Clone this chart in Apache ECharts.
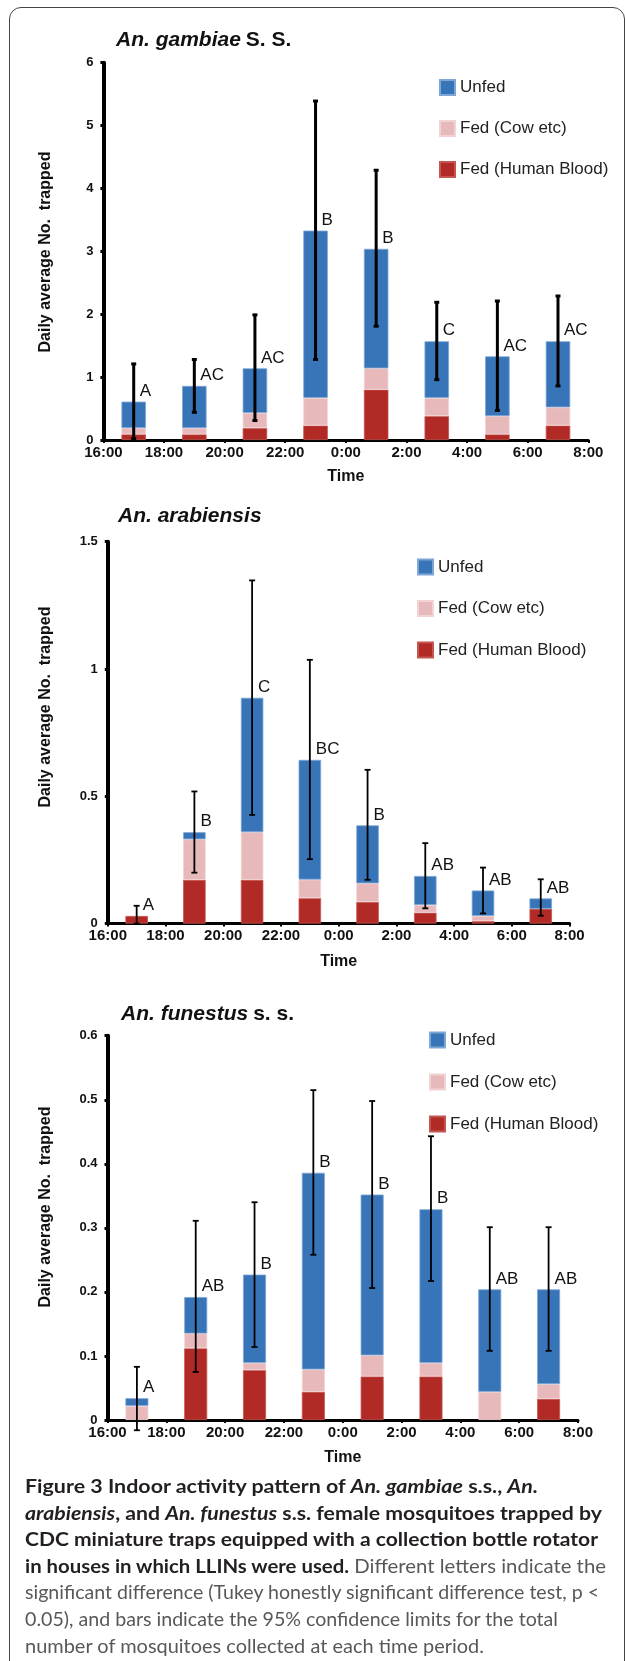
<!DOCTYPE html>
<html><head><meta charset="utf-8">
<script src="https://cdn.jsdelivr.net/npm/echarts@6/dist/echarts.min.js"></script>
<style>
html,body{margin:0;padding:0;background:#fff;}
#frame{position:absolute;left:9px;top:7px;width:616px;height:1700px;border:1.5px solid #444;border-radius:12px;box-sizing:border-box;}
#chart{position:absolute;left:0;top:0;width:625px;height:1661px;}
#cap{position:absolute;left:25px;top:1473px;font-family:Lato,'Open Sans',sans-serif;font-size:19px;line-height:26.6px;color:#585858;}
#cap .l{white-space:nowrap;height:26.6px;}
#cap .l span{display:inline-block;transform-origin:0 50%;}
#cap b{font-weight:700;color:#231f20;}
</style>
</head><body>
<div id="frame"></div>
<div id="chart"></div>
<div id="cap">
<div class="l" data-w="513"><span><b>Figure 3 Indoor activity pattern of <i>An. gambiae</i> s.s., <i>An.</i></b></span></div>
<div class="l" data-w="577"><span><b><i>arabiensis</i>, and <i>An. funestus</i> s.s. female mosquitoes trapped by</b></span></div>
<div class="l" data-w="573"><span><b>CDC miniature traps equipped with a collection bottle rotator</b></span></div>
<div class="l" data-w="581"><span><b>in houses in which LLINs were used.</b> Different letters indicate the</span></div>
<div class="l" data-w="574"><span>significant difference (Tukey honestly significant difference test, p &lt;</span></div>
<div class="l" data-w="533"><span>0.05), and bars indicate the 95% confidence limits for the total</span></div>
<div class="l" data-w="459"><span>number of mosquitoes collected at each time period.</span></div>
</div>
<script>
// ---- data ----
const timeLabels = ['16:00','18:00','20:00','22:00','0:00','2:00','4:00','6:00','8:00'];
const periods = ['16-18','18-20','20-22','22-24','0-2','2-4','4-6','6-8'];
const periodMid = [17, 19, 21, 23, 25, 27, 29, 31]; // mid-point hour of each 2-h period
const seriesNames = ['Fed (Human Blood)', 'Fed (Cow etc)', 'Unfed'];

// An. gambiae s.s.
const gamHuman = [0.09, 0.09, 0.19, 0.23, 0.80, 0.38, 0.09, 0.23];
const gamCow   = [0.10, 0.10, 0.24, 0.44, 0.34, 0.29, 0.29, 0.29];
const gamUnfed = [0.42, 0.67, 0.71, 2.66, 1.90, 0.90, 0.95, 1.05];
const gamLow   = [0.02, 0.44, 0.31, 1.28, 1.81, 0.96, 0.47, 0.86];
const gamHigh  = [1.21, 1.28, 1.99, 5.39, 4.29, 2.19, 2.21, 2.29];
const gamLetters = ['A','AC','AC','B','B','C','AC','AC'];

// An. arabiensis
const araHuman = [0.03, 0.172, 0.172, 0.10, 0.085, 0.043, 0.01, 0.058];
const araCow   = [0.0, 0.159, 0.187, 0.073, 0.073, 0.030, 0.02, 0.0];
const araUnfed = [0.0, 0.028, 0.528, 0.470, 0.228, 0.114, 0.10, 0.041];
const araLow   = [0.0, 0.20, 0.427, 0.253, 0.172, 0.06, 0.04, 0.031];
const araHigh  = [0.07, 0.519, 1.348, 1.036, 0.604, 0.316, 0.22, 0.174];
const araLetters = ['A','B','C','BC','B','AB','AB','AB'];

// An. funestus s.s.
const funHuman = [0.0, 0.112, 0.078, 0.044, 0.068, 0.068, 0.0, 0.033];
const funCow   = [0.022, 0.023, 0.011, 0.035, 0.033, 0.021, 0.044, 0.023];
const funUnfed = [0.012, 0.057, 0.138, 0.307, 0.251, 0.240, 0.160, 0.148];
const funLow   = [-0.016, 0.075, 0.114, 0.258, 0.206, 0.217, 0.108, 0.108];
const funHigh  = [0.083, 0.311, 0.340, 0.515, 0.498, 0.443, 0.301, 0.301];
const funLetters = ['A','AB','B','B','B','B','AB','AB'];

// ---- styling / layout ----
const FONT = "'Liberation Sans', Arial, Helvetica, sans-serif";
const colors = {'Fed (Human Blood)':'#b22a25', 'Fed (Cow etc)':'#e8b9bb', 'Unfed':'#3874b8'};
const borders = {'Fed (Human Blood)':'#c45550', 'Fed (Cow etc)':'#f1d3d4', 'Unfed':'#7ea6d6'};

const charts = [
  {title:'{i|An. gambiae} {n|S. S.}', titleTop:25, titleLeft:111,
   grid:{left:103.4, top:62.7, width:484.9, height:377.3}, max:6, interval:1, barWidth:24.5,
   human:gamHuman, cow:gamCow, unfed:gamUnfed, low:gamLow, high:gamHigh, letters:gamLetters,
   errW:3, capW:2.5, legendLeft:434, legendTop:74, legendGap:24, nameY:252, nameGap:29},
  {title:'{i|An. arabiensis}', titleTop:501, titleLeft:113,
   grid:{left:107.8, top:541.7, width:461.8, height:381.9}, max:1.5, interval:0.5, barWidth:22.5,
   human:araHuman, cow:araCow, unfed:araUnfed, low:araLow, high:araHigh, letters:araLetters,
   errW:1.8, capW:3, legendLeft:412, legendTop:553.5, legendGap:24.5, nameY:707, nameGap:30},
  {title:'{i|An. funestus} {n|s. s.}', titleTop:999, titleLeft:116,
   grid:{left:107.5, top:1035.7, width:470.5, height:384.3}, max:0.6, interval:0.1, barWidth:23,
   human:funHuman, cow:funCow, unfed:funUnfed, low:funLow, high:funHigh, letters:funLetters,
   errW:1.8, capW:3, legendLeft:424, legendTop:1026.5, legendGap:25, nameY:1207, nameGap:30}
];

const option = {animation:false, textStyle:{fontFamily:FONT},
  title:[], legend:[], grid:[], xAxis:[], yAxis:[], series:[], graphic:[]};

charts.forEach((c, i) => {
  option.title.push({text:c.title, left:c.titleLeft, top:c.titleTop,
    textStyle:{rich:{
      i:{fontStyle:'italic', fontWeight:'bold', fontSize:21, color:'#111', fontFamily:FONT},
      n:{fontWeight:'bold', fontSize:21, color:'#111', fontFamily:FONT}}}});
  option.legend.push({orient:'vertical', left:c.legendLeft, top:c.legendTop, itemGap:c.legendGap,
    itemWidth:15, itemHeight:15, icon:'rect', selectedMode:false,
    data:['Unfed','Fed (Cow etc)','Fed (Human Blood)'],
    textStyle:{fontSize:17, color:'#222', fontFamily:FONT}});
  option.grid.push(Object.assign({containLabel:false}, c.grid));
  // visible time axis (index 2i)
  option.xAxis.push({type:'value', gridIndex:i, min:16, max:32, interval:2, position:'bottom',
    name:'Time', nameLocation:'middle', nameGap:c.nameGap,
    nameTextStyle:{fontWeight:'bold', fontSize:16, color:'#111'},
    axisLine:{show:true, onZero:false, lineStyle:{color:'#000', width:3}},
    axisTick:{show:true, length:3, lineStyle:{color:'#000', width:2}},
    axisLabel:{formatter:v => timeLabels[Math.round((v-16)/2)], fontWeight:'bold', fontSize:15, color:'#111', margin:5},
    splitLine:{show:false}});
  // hidden category axis for the stacked bars (index 2i+1)
  option.xAxis.push({type:'category', gridIndex:i, data:periods, show:false, position:'bottom', boundaryGap:true});
  option.yAxis.push({type:'value', gridIndex:i, min:0, max:c.max, interval:c.interval,
    axisLine:{show:true, lineStyle:{color:'#000', width:4}},
    axisTick:{show:true, length:3, lineStyle:{color:'#000', width:3}},
    axisLabel:{fontWeight:'bold', fontSize:13, color:'#111', margin:10},
    splitLine:{show:false}});
  const segs = {'Fed (Human Blood)':c.human, 'Fed (Cow etc)':c.cow, 'Unfed':c.unfed};
  seriesNames.forEach(n => {
    option.series.push({type:'bar', name:n, xAxisIndex:2*i+1, yAxisIndex:i, stack:'s'+i,
      barWidth:c.barWidth, silent:true,
      itemStyle:{color:colors[n], borderColor:borders[n], borderWidth:0.8},
      data:segs[n].map(v => v > 0 ? v : '-')});
  });
  const totals = periodMid.map((x,k) => c.human[k] + c.cow[k] + c.unfed[k]);
  option.series.push({type:'custom', xAxisIndex:2*i, yAxisIndex:i, clip:false, z:10, silent:true,
    data:periodMid.map((x,k) => [x, c.low[k], c.high[k], totals[k]]),
    renderItem:(params, api) => {
      const x = api.value(0);
      const pLo = api.coord([x, api.value(1)]);
      const pHi = api.coord([x, api.value(2)]);
      const pTop = api.coord([x, api.value(3)]);
      const st = {stroke:'#000', lineWidth:c.errW};
      return {type:'group', children:[
        {type:'line', shape:{x1:pLo[0], y1:pLo[1], x2:pHi[0], y2:pHi[1]}, style:st},
        {type:'line', shape:{x1:pHi[0]-c.capW, y1:pHi[1], x2:pHi[0]+c.capW, y2:pHi[1]}, style:st},
        {type:'line', shape:{x1:pLo[0]-c.capW, y1:pLo[1], x2:pLo[0]+c.capW, y2:pLo[1]}, style:st},
        {type:'text', x:pTop[0]+6, y:pTop[1]-2, style:{text:c.letters[params.dataIndex],
          fill:'#111', font:'17px ' + FONT, align:'left', verticalAlign:'bottom',
          textAlign:'left', textVerticalAlign:'bottom'}}
      ]};
    }});
  option.graphic.push({type:'text', x:46, y:c.nameY, rotation:Math.PI/2,
    style:{text:'Daily average No.  trapped', font:'bold 16px ' + FONT, fill:'#111',
      align:'center', verticalAlign:'middle', textAlign:'center', textVerticalAlign:'middle'}});
});

const chart = echarts.init(document.getElementById('chart'), null, {renderer:'canvas'});
chart.setOption(option);

// fit caption lines to the reference line widths
document.querySelectorAll('#cap .l').forEach(l => {
  const s = l.querySelector('span');
  const w = s.getBoundingClientRect().width;
  const t = parseFloat(l.dataset.w);
  if (w > 0) s.style.transform = 'scaleX(' + (t / w) + ')';
});
</script>
</body></html>
